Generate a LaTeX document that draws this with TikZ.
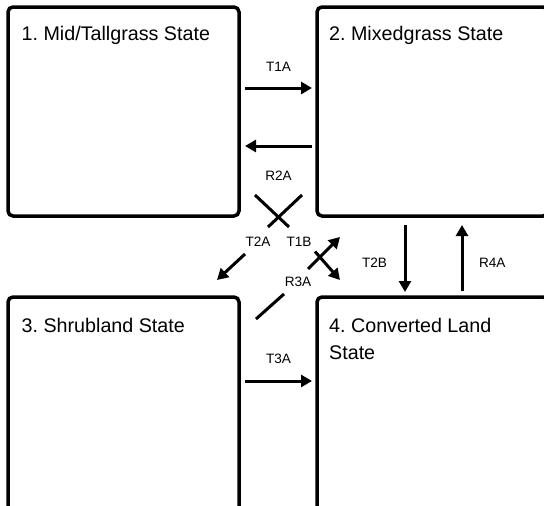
\documentclass[tikz,border=0pt]{standalone}
\usepackage{fontspec}
\setmainfont{Liberation Sans}
\usetikzlibrary{arrows.meta,calc}
\frenchspacing

\begin{document}
\begin{tikzpicture}[x=1pt,y=-1pt]
        \tikzstyle{statebox}=[draw,line width=3.5pt,rounded corners=5pt,minimum width=231pt,minimum height=209pt,inner sep=0pt,outer sep=0pt]
        \tikzstyle{boxtext}=[anchor=base west,inner sep=0pt,align=left,font=\fontsize{19.7}{27.8}\selectfont]
        \tikzstyle{flow}=[line width=3pt,-{Triangle[length=11pt,width=12pt]}]
        \tikzstyle{link}=[line width=3pt]
        \tikzstyle{rate}=[inner sep=0pt,font=\fontsize{13.6}{16}\selectfont]
  \useasboundingbox (0,0) rectangle (544,506);
  \clip (0,0) rectangle (544,506);
  \node[statebox] (S_1) at (123.5,111.5) {};
  \node[statebox] (S_2) at (432.5,111.5) {};
  \node[statebox,minimum height=240pt] (S_3) at (123.5,417) {};
  \node[statebox,minimum height=240pt] (S_4) at (432.5,417) {};
  \node[boxtext] (L_1) at ([shift={(13.5,34)}]S_1.north west) {1. Mid/Tallgrass State};
  \node[boxtext] (L_2) at ([shift={(12,34)}]S_2.north west)   {2. Mixedgrass State};
  \node[boxtext] (L_3) at ([shift={(13.5,35)}]S_3.north west) {3. Shrubland State};
  % base of a two-line node is the base of its last line
  \node[boxtext] (L_4) at ([shift={(12,62.8)}]S_4.north west) {4. Converted Land\\State};
  \draw[flow] ([xshift=6pt,yshift=23.5pt]S_1.east) -- ([xshift=-5pt,yshift=23.5pt]S_2.west) node[rate,midway,above=15pt] (T1A) {T1A};
  \draw[flow] ([xshift=-5pt,yshift=-34.5pt]S_2.west) -- ([xshift=6pt,yshift=-34.5pt]S_1.east) node[rate,midway,below=24pt] (R2A) {R2A};
  \draw[flow] ([xshift=6pt,yshift=-84pt]S_3.north east) -- ([xshift=-5pt,yshift=-84pt]S_4.north west) node[rate,midway,above=16pt] (T3A) {T3A};
  \draw[flow] ([xshift=88pt,yshift=-9pt]S_2.south west) -- ([xshift=88pt,yshift=5pt]S_4.north west) node[rate,midway,left=16.5pt,yshift=-4.5pt] (T2B) {T2B};
  \draw[flow] ([xshift=145pt,yshift=6pt]S_4.north west) -- ([xshift=145pt,yshift=-9pt]S_2.south west) node[rate,midway,right=15.5pt,yshift=-4.5pt] (R4A) {R4A};
  % diagonal transitions, broken round their labels
  \coordinate (gap) at ($(S_1.south east)!0.5!(S_4.north west)$);
  \node[rate] (T2A) at ($(gap)+(-20,-14.5)$) {T2A};
  \node[rate] (T1B) at ($(gap)+(21,-14.5)$)  {T1B};
  \node[rate] (R3A) at ($(gap)+(20,25.5)$)   {R3A};
  \draw[link] ($(gap)+(24,-61.5)$) -- ($(gap)+(-10,-29.5)$);
  \draw[flow] ($(gap)+(-33,-2.5)$) -- ($(gap)+(-61,23.5)$);
  \draw[link] ($(gap)+(-23,-61.5)$) -- ($(gap)+(11,-29.5)$);
  \draw[flow] ($(gap)+(37,-5)$) -- ($(gap)+(62,23.5)$);
  \draw[link] ($(gap)+(-22,62.5)$) -- ($(gap)+(6,37.5)$);
  \draw[flow] ($(gap)+(30,12.5)$) -- ($(gap)+(62,-19.5)$);
\end{tikzpicture}
\end{document}
